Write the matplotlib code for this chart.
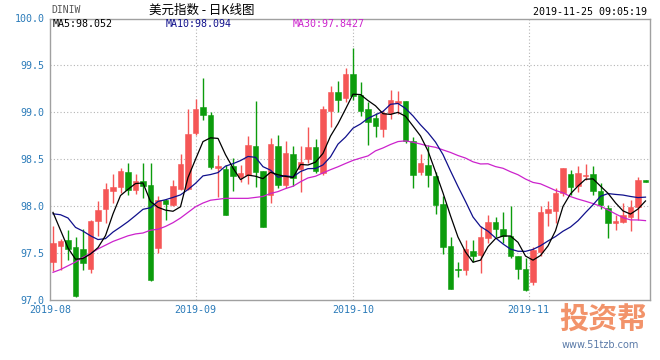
import numpy as np
import matplotlib
matplotlib.use("Agg")
import matplotlib.pyplot as plt

plt.rcParams['font.family'] = ['DejaVu Sans Mono', 'Noto Sans CJK SC']

#%% data (daily candles, Aug - Nov 25 2019)
opens = [97.40, 97.57, 97.64, 97.56, 97.54, 97.33, 97.84, 97.97, 98.16, 98.20,
         98.36, 98.17, 98.26, 98.22, 97.55, 98.06, 98.01, 98.18, 98.18, 98.78,
         99.05, 98.97, 98.40, 98.39, 98.43, 98.31, 98.33, 98.64, 98.37, 98.12,
         98.64, 98.22, 98.55, 98.39, 98.50, 98.63, 98.35, 99.01, 99.21, 99.15,
         99.41, 99.18, 99.03, 98.94, 98.82, 98.99, 99.10, 99.12, 98.69, 98.36,
         98.44, 98.32, 98.02, 97.57, 97.33, 97.32, 97.52, 97.48, 97.66, 97.83,
         97.75, 97.68, 97.46, 97.33, 97.19, 97.51, 97.92, 97.95, 98.14, 98.34,
         98.21, 98.32, 98.34, 98.16, 97.98, 97.82, 97.83, 97.88, 97.99, 98.28]
highs = [97.79, 97.65, 97.74, 97.67, 97.75, 97.85, 98.05, 98.24, 98.34, 98.40,
         98.46, 98.34, 98.46, 98.46, 98.10, 98.07, 98.28, 98.55, 99.03, 99.14,
         99.37, 99.00, 98.54, 98.44, 98.51, 98.44, 98.75, 99.12, 98.37, 98.72,
         98.76, 98.69, 98.64, 98.64, 98.84, 98.71, 99.07, 99.28, 99.33, 99.47,
         99.68, 99.32, 99.11, 98.99, 99.02, 99.24, 99.23, 99.12, 98.74, 98.55,
         98.65, 98.36, 98.11, 97.67, 97.40, 97.64, 97.64, 97.78, 97.90, 97.88,
         97.93, 98.00, 97.46, 97.44, 97.56, 98.00, 98.05, 98.19, 98.40, 98.38,
         98.42, 98.45, 98.43, 98.24, 98.01, 97.90, 98.03, 98.06, 98.31, 98.28]
lows = [97.30, 97.32, 97.42, 97.03, 97.32, 97.28, 97.68, 97.82, 98.03, 98.14,
        98.12, 98.13, 98.08, 97.20, 97.50, 97.85, 98.00, 98.17, 98.17, 98.76,
        98.92, 98.39, 98.09, 97.90, 98.16, 98.25, 98.23, 98.20, 97.77, 98.03,
        98.19, 98.19, 98.21, 98.15, 98.46, 98.35, 98.33, 98.84, 99.00, 99.11,
        99.13, 98.96, 98.65, 98.74, 98.74, 98.93, 98.98, 98.67, 98.19, 98.33,
        98.20, 97.91, 97.49, 97.11, 97.24, 97.26, 97.40, 97.28, 97.60, 97.67,
        97.60, 97.44, 97.22, 97.09, 97.15, 97.46, 97.78, 97.82, 98.10, 98.12,
        98.15, 98.28, 98.12, 97.97, 97.66, 97.74, 97.82, 97.73, 97.85, 98.25]
closes = [97.60, 97.62, 97.54, 97.04, 97.39, 97.84, 97.96, 98.18, 98.20, 98.37,
          98.17, 98.27, 98.21, 97.21, 98.06, 98.02, 98.21, 98.45, 98.77, 99.03,
          98.97, 98.41, 98.42, 97.90, 98.32, 98.35, 98.65, 98.36, 97.77, 98.66,
          98.22, 98.56, 98.30, 98.47, 98.63, 98.37, 99.03, 99.22, 99.13, 99.41,
          99.17, 99.01, 98.90, 98.85, 98.99, 99.13, 99.12, 98.69, 98.33, 98.46,
          98.33, 98.01, 97.56, 97.11, 97.32, 97.54, 97.46, 97.67, 97.83, 97.75,
          97.68, 97.46, 97.33, 97.10, 97.53, 97.93, 97.97, 98.14, 98.40, 98.20,
          98.35, 98.33, 98.16, 98.01, 97.82, 97.84, 97.90, 97.99, 98.28, 98.25]

ma5 = [97.93, 97.74, 97.55, 97.43, 97.438, 97.486, 97.554, 97.682, 97.914, 98.110,
       98.176, 98.238, 98.244, 98.046, 97.984, 97.954, 97.942, 97.990, 98.302, 98.496,
       98.686, 98.726, 98.720, 98.546, 98.404, 98.280, 98.328, 98.316, 98.290, 98.358,
       98.332, 98.314, 98.302, 98.442, 98.436, 98.466, 98.560, 98.744, 98.876, 99.032,
       99.192, 99.188, 99.124, 99.068, 98.984, 98.976, 98.998, 98.956, 98.852, 98.746,
       98.586, 98.364, 98.138, 97.894, 97.666, 97.508, 97.398, 97.420, 97.564, 97.650,
       97.678, 97.678, 97.610, 97.464, 97.420, 97.470, 97.572, 97.734, 97.994, 98.128,
       98.212, 98.284, 98.288, 98.210, 98.134, 98.032, 97.946, 97.912, 97.966, 98.052]
ma10 = [97.915, 97.905, 97.87, 97.77, 97.73, 97.68, 97.64, 97.65, 97.72, 97.774,
        97.831, 97.896, 97.963, 97.980, 98.047, 98.065, 98.090, 98.117, 98.174, 98.240,
        98.320, 98.334, 98.355, 98.424, 98.450, 98.483, 98.527, 98.518, 98.418, 98.381,
        98.306, 98.321, 98.309, 98.366, 98.397, 98.399, 98.437, 98.523, 98.659, 98.734,
        98.829, 98.874, 98.934, 98.972, 99.008, 99.084, 99.093, 99.040, 98.960, 98.865,
        98.781, 98.681, 98.547, 98.373, 98.206, 98.047, 97.881, 97.779, 97.729, 97.658,
        97.593, 97.538, 97.515, 97.514, 97.535, 97.574, 97.625, 97.672, 97.729, 97.774,
        97.841, 97.928, 98.011, 98.102, 98.131, 98.122, 98.115, 98.100, 98.088, 98.093]
ma30 = [97.29, 97.32, 97.36, 97.40, 97.45, 97.49, 97.54, 97.58, 97.62, 97.65,
        97.68, 97.70, 97.71, 97.74, 97.75, 97.78, 97.82, 97.87, 97.93, 97.99,
        98.03, 98.06, 98.07, 98.08, 98.08, 98.08, 98.08, 98.09, 98.10, 98.132,
        98.152, 98.184, 98.209, 98.257, 98.298, 98.316, 98.351, 98.386, 98.417, 98.452,
        98.485, 98.510, 98.533, 98.587, 98.618, 98.655, 98.686, 98.694, 98.679, 98.660,
        98.639, 98.625, 98.597, 98.570, 98.537, 98.510, 98.470, 98.447, 98.449, 98.419,
        98.401, 98.364, 98.332, 98.286, 98.250, 98.235, 98.200, 98.164, 98.139, 98.099,
        98.072, 98.049, 98.024, 97.996, 97.957, 97.914, 97.874, 97.850, 97.849, 97.842]

month_labels = ['2019-08', '2019-09', '2019-10', '2019-11']
month_pos = [-0.4, 19, 40, 63.4]
price_ticks = [97.0, 97.5, 98.0, 98.5, 99.0, 99.5, 100.0]

#%% colours
up_col = '#f55656'
down_col = '#0c9c0c'
lab_col = '#2b7bb9'
grid_col = '#b4b4b4'

#%%
fig = plt.figure(figsize=(6.6, 3.6), dpi=100)
ax = fig.add_axes([50/660, 1-299.5/360, 600/660, 281/360])

x = np.arange(len(closes))
o = np.array(opens)
c = np.array(closes)
up = c >= o
cols = np.where(up, up_col, down_col)

ax.vlines(x, lows, highs, colors=cols, linewidth=1.0, zorder=2)
body_low = np.minimum(o, c)
body_h = np.maximum(np.abs(c - o), 0.008)
ax.bar(x, body_h, bottom=body_low, width=0.78, color=cols,
       edgecolor=cols, linewidth=0.4, zorder=3)

ax.plot(x, ma30, color='#cc22cc', linewidth=0.9, zorder=4)
ax.plot(x, ma10, color='#10108c', linewidth=0.9, zorder=4)
ax.plot(x, ma5, color='black', linewidth=0.9, zorder=4)

ax.set_xlim(-0.4, 79.6)
ax.set_ylim(97.0, 100.0)
ax.set_yticks(price_ticks)
ax.set_yticklabels(['%.1f' % v for v in price_ticks])
ax.set_xticks(month_pos)
ax.set_xticklabels(month_labels)
ax.tick_params(length=0, labelsize=7.2, colors=lab_col, pad=4)

for v in price_ticks[1:-1]:
    ax.axhline(v, color=grid_col, linewidth=0.8, linestyle=(0, (1, 2)), zorder=1)
for p in month_pos[1:]:
    ax.axvline(p, color=grid_col, linewidth=0.8, linestyle=(0, (1, 2)), zorder=1)

for s in ax.spines.values():
    s.set_color('#a0a0a0')
    s.set_linewidth(1.0)

# MA legend row
ax.text(0.005, 0.98, 'MA5:98.052', transform=ax.transAxes, color='black',
        fontsize=7.2, va='center', ha='left')
ax.text(0.192, 0.98, 'MA10:98.094', transform=ax.transAxes, color='#10108c',
        fontsize=7.2, va='center', ha='left')
ax.text(0.405, 0.98, 'MA30:97.8427', transform=ax.transAxes, color='#cc22cc',
        fontsize=7.2, va='center', ha='left')

# header
fig.text(51/660, 1-10/360, 'DINIW', color='#555555', fontsize=7, va='center', ha='left')
fig.text(202/660, 1-10/360, '美元指数 - 日K线图', color='black', fontsize=9,
         va='center', ha='center', family=['Noto Sans CJK SC', 'DejaVu Sans'])
fig.text(647/660, 1-12/360, '2019-11-25 09:05:19', color='black', fontsize=7.2,
         va='center', ha='right')

# watermark bottom right
fig.text(603/660, 1-320/360, '投资帮', color='#f08050', alpha=0.85, fontsize=21,
         fontweight='bold', va='center', ha='center',
         family=['Noto Sans CJK SC', 'DejaVu Sans'])
fig.text(600/660, 1-345/360, 'www.51tzb.com', color='#5a7aa8', fontsize=7,
         va='center', ha='center', family=['DejaVu Sans'])

fig.savefig('out.png', dpi=100)
